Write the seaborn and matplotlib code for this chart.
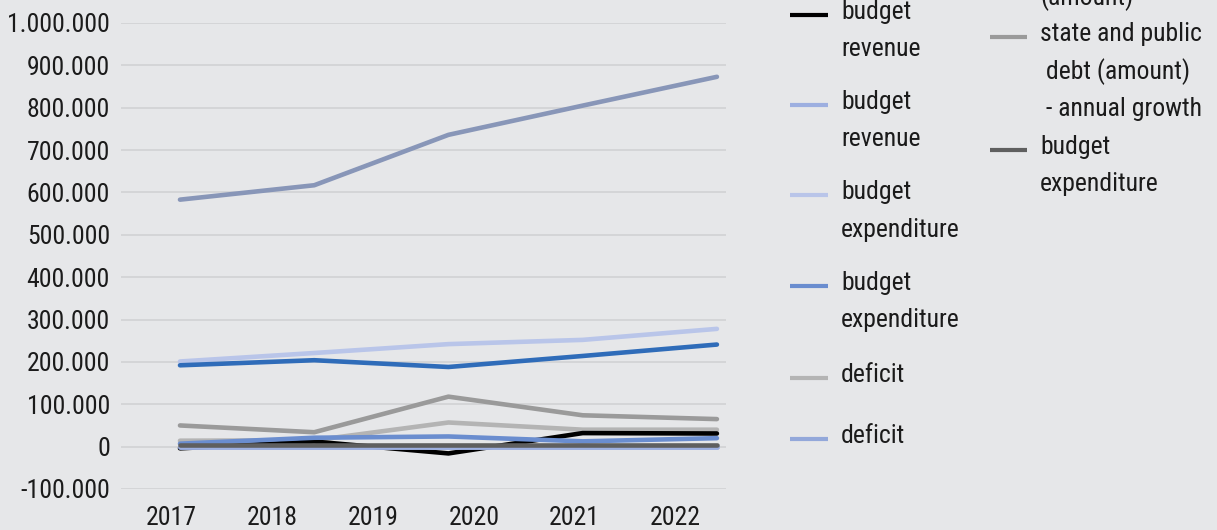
import numpy as np
import pandas as pd
import matplotlib
matplotlib.use("Agg")
import matplotlib.pyplot as plt
from matplotlib import font_manager as fm
from matplotlib.lines import Line2D
from matplotlib.ticker import FuncFormatter, MultipleLocator
import seaborn as sns

# ---- data (thousands) ----
years = ["2017", "2018", "2019", "2020", "2021", "2022"]

budget_revenue_a = [-4, 12, -16, 32, 31]
budget_revenue_b = [0, 0, 0, 0, 0]
budget_expenditure_a = [201, 221, 242, 252, 278]
budget_expenditure_b = [7, 21, 24, 12.5, 20]
deficit_a = [14, 15, 57, 40, 40]
deficit_b = [-1, -1, -1, -1, -1]
debt_amount_a = [192, 204, 188, 214, 241]
debt_amount_b = [583, 617, 736, 805, 873]
debt_growth = [50, 34, 118, 74, 65]
budget_expenditure_c = [3, 3, 3, 3, 3]

series_labels = {
    "s1": "budget\nrevenue",
    "s2": "budget\nrevenue",
    "s3": "budget\nexpenditure",
    "s4": "budget\nexpenditure",
    "s5": "deficit",
    "s6": "deficit",
    "s7": "state and public\ndebt (amount)",
    "s8": "state and public\ndebt\n(amount)",
    "s9": "state and public\n debt (amount)\n - annual growth",
    "s10": "budget\nexpenditure",
}
series_values = {
    "s1": budget_revenue_a,
    "s2": budget_revenue_b,
    "s3": budget_expenditure_a,
    "s4": budget_expenditure_b,
    "s5": deficit_a,
    "s6": deficit_b,
    "s7": debt_amount_a,
    "s8": debt_amount_b,
    "s9": debt_growth,
    "s10": budget_expenditure_c,
}
palette = {
    "s1": "#000000",
    "s2": "#9dafe0",
    "s3": "#b9c5e9",
    "s4": "#6a8dcf",
    "s5": "#b4b4b4",
    "s6": "#93a8da",
    "s7": "#2f6cb9",
    "s8": "#8896b8",
    "s9": "#9a9a9a",
    "s10": "#5f5f5f",
}
draw_order = ["s8", "s3", "s7", "s9", "s5", "s1", "s4", "s6", "s2", "s10"]

# five observation points spread across the category axis
n_pts = len(budget_revenue_a)
period_pos = np.linspace(0.585, 5.91, n_pts)

rows = []
for key in draw_order:
    for p, v in zip(period_pos, series_values[key]):
        rows.append({"series": key, "pos": p, "value": v * 1000})
df = pd.DataFrame(rows)

# ---- style ----
BG = "#e6e7e9"
GRID = "#d3d4d6"
TXT = "#1b1b1b"
sns.set_style("white", {"axes.facecolor": BG, "figure.facecolor": BG})

names = {f.name for f in fm.fontManager.ttflist}
family = "DejaVu Sans"
stretch = "normal"
for cand in ["Liberation Sans Narrow", "Roboto Condensed"]:
    if cand in names:
        family = cand
        break
else:
    if any(f.name == "DejaVu Sans" and f.stretch == "condensed" for f in fm.fontManager.ttflist):
        stretch = "condensed"
plt.rcParams["font.family"] = [family, "DejaVu Sans"]
plt.rcParams["font.stretch"] = stretch
FS = 18.5

W, H = 1217, 530
fig = plt.figure(figsize=(W / 100, H / 100), dpi=100)
fig.patch.set_facecolor(BG)
ax = fig.add_axes([121 / W, (H - 489) / H, 605 / W, (489 - 23) / H])
ax.set_facecolor(BG)

sns.lineplot(data=df, x="pos", y="value", hue="series", hue_order=draw_order,
             palette=palette, linewidth=3.3, legend=False, ax=ax, sort=False,
             estimator=None)

ax.set_xlim(0, 6)
ax.set_ylim(-100000, 1000000)
ax.yaxis.set_major_locator(MultipleLocator(100000))
ax.yaxis.set_major_formatter(FuncFormatter(lambda v, _: f"{v:,.0f}".replace(",", ".")))
ax.set_xticks(np.arange(len(years)) + 0.5)
ax.set_xticklabels(years)
ax.grid(axis="y", color=GRID, linewidth=1.3)
ax.set_axisbelow(True)
for s in ax.spines.values():
    s.set_visible(False)
ax.tick_params(axis="both", length=0, labelsize=FS, labelcolor=TXT)
ax.tick_params(axis="y", pad=8)
ax.tick_params(axis="x", pad=12)
ax.set_xlabel("")
ax.set_ylabel("")


# ---- legend, two columns, in figure pixels from the top-left ----
def fx(px):
    return px / W


def fy(py):
    return (H - py) / H


LINE_STEP = 37.5
columns = [
    (790, 828, 841, [("s1", 15), ("s2", 105), ("s3", 195), ("s4", 286), ("s5", 378), ("s6", 439)]),
    (990, 1027, 1040, [("s7", -149), ("s8", -74), ("s9", 37), ("s10", 150)]),
]
for x0, x1, tx, entries in columns:
    for key, my in entries:
        if my > 0:
            fig.add_artist(Line2D([fx(x0), fx(x1)], [fy(my), fy(my)], transform=fig.transFigure,
                                  color=palette[key], linewidth=3.0, solid_capstyle="butt"))
        for i, line in enumerate(series_labels[key].split("\n")):
            ly = my - 3 + i * LINE_STEP
            if ly < -16:
                continue  # this row sits above the top edge of the figure
            fig.text(fx(tx), fy(ly), line, fontsize=FS, color=TXT, ha="left", va="center")

fig.savefig("out.png", dpi=100, facecolor=BG)
